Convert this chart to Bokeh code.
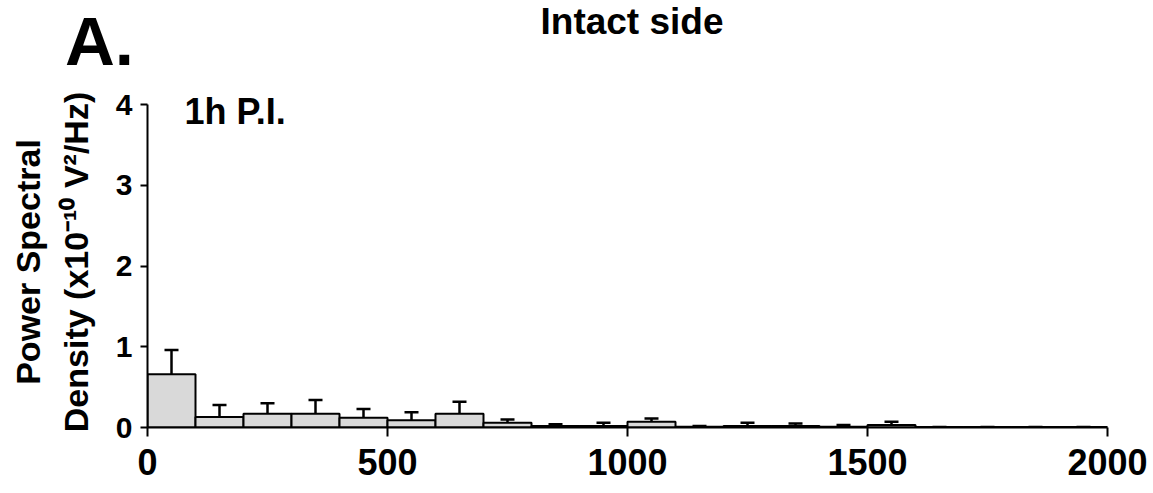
from bokeh.plotting import figure
from bokeh.layouts import column
from bokeh.models import ColumnDataSource, Whisker, Label, Range1d, FixedTicker, TeeHead, Div
from bokeh.embed import file_html
from bokeh.resources import INLINE

# Frequency bins (Hz), bin width 100
bin_left = [0, 100, 200, 300, 400, 500, 600, 700, 800, 900,
            1000, 1100, 1200, 1300, 1400, 1500, 1600, 1700, 1800, 1900]
psd_mean = [0.66, 0.13, 0.17, 0.17, 0.12, 0.09, 0.17, 0.06, 0.02, 0.02,
            0.07, 0.01, 0.02, 0.02, 0.01, 0.03, 0.005, 0.005, 0.005, 0.005]
psd_err = [0.30, 0.15, 0.13, 0.17, 0.11, 0.10, 0.15, 0.04, 0.02, 0.04,
           0.04, 0.01, 0.04, 0.03, 0.02, 0.04, 0.0, 0.0, 0.0, 0.0]
x_ticks = [0, 500, 1000, 1500, 2000]
y_ticks = [0, 1, 2, 3, 4]
panel_letter = "A."
title_text = "Intact side"
inset_text = "1h P.I."

FONT = "Liberation Sans"
W = 1153
HEAD_H = 84

# ---- header strip with panel letter and title ----
head_html = (
    f'<div style="position:relative;width:{W}px;height:{HEAD_H}px;overflow:hidden;'
    f'font-family:\'{FONT}\',Arial,sans-serif;font-weight:bold;color:black;">'
    f'<span style="position:absolute;left:65px;top:7px;font-size:69px;'
    f'line-height:69px;white-space:nowrap;">{panel_letter}</span>'
    f'<span style="position:absolute;left:632px;top:3px;font-size:37px;'
    f'line-height:37px;white-space:nowrap;transform:translateX(-50%);">{title_text}</span>'
    f'</div>'
)
head = Div(text=head_html, width=W, height=HEAD_H, margin=0)

# ---- main chart ----
src = ColumnDataSource(dict(
    left=bin_left,
    right=[b + 100 for b in bin_left],
    top=psd_mean,
    bottom=[0] * len(bin_left),
    base=[b + 50 for b in bin_left],
    upper=[m + e for m, e in zip(psd_mean, psd_err)],
))

# frame slightly taller than the 0-4 axis so the inset label is not clipped
p = figure(width=W, height=493 - HEAD_H, output_backend="svg", toolbar_location=None,
           x_range=Range1d(0, 2000), y_range=Range1d(0, 4.1),
           min_border_left=147, min_border_right=46, min_border_top=12,
           min_border_bottom=66, margin=0)
p.outline_line_color = None
p.grid.visible = False

p.quad(left="left", right="right", top="top", bottom="bottom", source=src,
       fill_color="#d9d9d9", line_color="black", line_width=2)

w = Whisker(base="base", lower="top", upper="upper", source=src,
            line_color="black", line_width=2.5,
            upper_head=TeeHead(size=14, line_color="black", line_width=2.5),
            lower_head=None)
p.add_layout(w)

for ax in (p.xaxis[0], p.yaxis[0]):
    ax.axis_line_color = "black"
    ax.axis_line_width = 2
    ax.major_tick_line_width = 2
    ax.major_tick_line_color = "black"
    ax.minor_tick_line_color = None
    ax.major_tick_in = 0
    ax.major_label_text_font = FONT
    ax.major_label_text_font_style = "bold"
    ax.major_label_text_color = "black"

p.yaxis.bounds = (0, 4)
p.xaxis.ticker = FixedTicker(ticks=x_ticks)
p.yaxis.ticker = FixedTicker(ticks=y_ticks)
p.xaxis.major_tick_out = 9
p.yaxis.major_tick_out = 7
p.xaxis.major_label_text_font_size = "36px"
p.yaxis.major_label_text_font_size = "30px"
p.xaxis.major_label_standoff = 12
p.yaxis.major_label_standoff = 8

p.yaxis.axis_label = "Power Spectral\nDensity (x10\u207b\u00b9\u2070 V\u00b2/Hz)"
p.yaxis.axis_label_text_font = FONT
p.yaxis.axis_label_text_font_style = "bold"
p.yaxis.axis_label_text_font_size = "34px"
p.yaxis.axis_label_text_color = "black"
p.yaxis.axis_label_text_line_height = 1.25
p.yaxis.axis_label_standoff = 18

p.add_layout(Label(x=77, y=3.91, text=inset_text, text_font=FONT,
                   text_font_style="bold", text_font_size="36px",
                   text_align="left", text_baseline="alphabetic",
                   text_color="black"))

layout = column(head, p, spacing=0)
open("out.html", "w").write(file_html(layout, INLINE))
